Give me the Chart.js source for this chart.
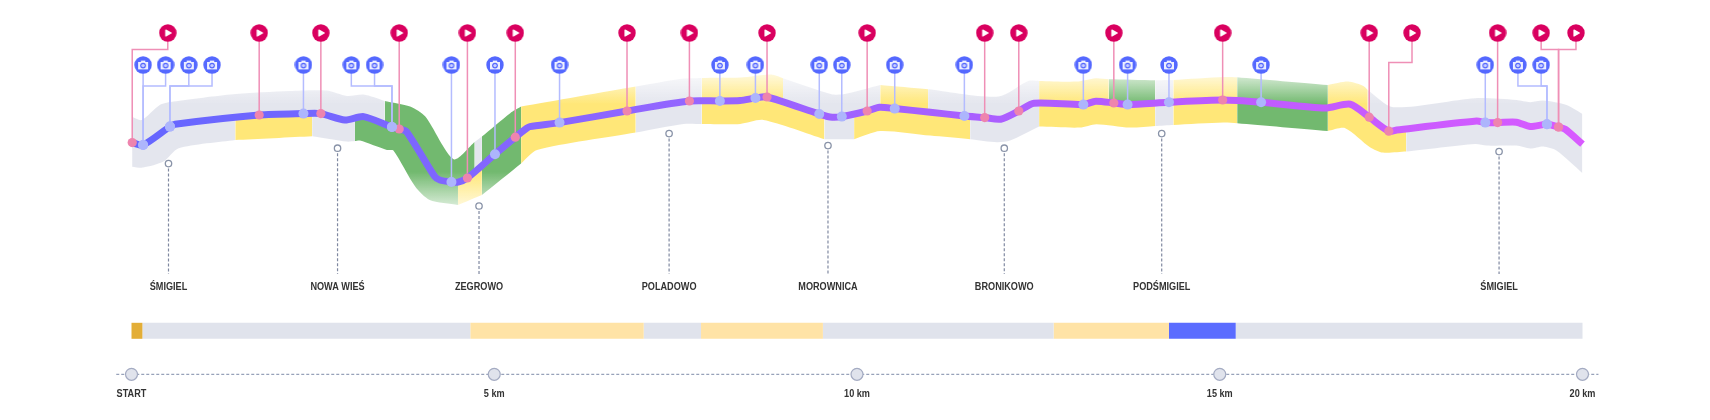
<!DOCTYPE html>
<html lang="en">
<head>
    <meta charset="UTF-8">
    <title>Route profile</title>
    <script src="https://cdn.jsdelivr.net/npm/chart.js"></script>
    <style>
        html, body { margin: 0; padding: 0; background: #fff; }
        canvas { display: block; }
    </style>
</head>
<body>
    <canvas id="routeChart" width="1710" height="420"></canvas>

    <script>
        // route centre line: km along the route, elevation
        const routeKm = [0.01, 0.16, 0.53, 0.60, 1.76, 2.37, 2.61, 2.94, 3.20, 3.59, 3.69, 3.79, 4.18, 4.25, 4.41, 4.50, 4.63, 5.01, 5.29, 5.45, 5.49, 5.90, 6.83, 7.69, 8.11, 8.39, 8.60, 8.76, 9.48, 9.63, 9.79, 10.14, 10.31, 10.52, 11.01, 11.48, 11.76, 11.98, 12.23, 12.44, 13.12, 13.29, 13.54, 13.73, 14.30, 15.04, 15.57, 16.45, 16.80, 17.06, 17.33, 17.44, 18.54, 18.66, 18.83, 19.09, 19.28, 19.51, 19.67, 19.76, 20.00];
        const routeElev = [138.7, 137.5, 146.7, 147.9, 152.5, 153.2, 153.2, 150, 151.7, 146.5, 145.5, 144.2, 121.7, 120, 119, 118.9, 121, 132.9, 141.4, 145.9, 146.7, 148.7, 154.5, 159.5, 159.5, 159.7, 161, 161.5, 153, 151.5, 151.7, 154.5, 156.4, 155.7, 153.9, 152, 151.2, 150.4, 154.5, 158.4, 157.7, 159.4, 158.5, 157.7, 158.9, 160, 158.9, 156, 157.9, 151.4, 144.4, 145, 149.5, 148.7, 148.7, 148.9, 146.7, 147.9, 146.5, 145.4, 137.9];

        // road corridor, side above the route
        const upperKm = [0, 0.14, 0.39, 0.58, 1.40, 2.18, 2.69, 2.97, 3.20, 3.49, 3.84, 4.05, 4.44, 4.73, 4.83, 5.22, 5.37, 6.95, 7.56, 7.86, 8.39, 8.82, 8.98, 9.65, 9.83, 10.32, 10.98, 11.95, 12.36, 12.51, 13.03, 13.29, 13.47, 14.11, 14.36, 15.05, 15.24, 16.49, 16.77, 16.98, 17.04, 17.39, 18.52, 19.09, 19.28, 19.46, 19.78, 20];
        const upperElev = [151.7, 150, 157.5, 159.2, 162.9, 164.5, 164.7, 162, 162.7, 159.5, 156.7, 151.7, 130.4, 139, 141.7, 153.4, 156.7, 166.7, 170.5, 171, 171.2, 172.7, 170.9, 162.9, 163, 167.5, 165.4, 161.7, 169.5, 169.5, 169.2, 170.9, 170.4, 169.9, 170, 171.5, 171.4, 167.5, 169.2, 167, 165, 156.4, 160.9, 160, 158.9, 159.7, 157.5, 153];
        const upperBreaks = [0, 3.49, 4.73, 4.83, 5.37, 6.95, 7.86, 8.98, 10.32, 10.98, 12.51, 13.47, 14.11, 14.36, 15.24, 16.49, 17.04, 20];
        const upperSurface = ['gray', 'green', 'gray', 'green', 'yellow', 'gray', 'yellow', 'gray', 'yellow', 'gray', 'yellow', 'green', 'gray', 'yellow', 'green', 'yellow', 'gray'];

        // road corridor, side below the route
        const lowerKm = [0, 0.16, 0.44, 0.65, 1.43, 2.49, 2.97, 3.08, 3.15, 3.52, 3.61, 3.91, 4.11, 4.50, 4.83, 5.37, 5.59, 6.95, 7.61, 7.86, 8.39, 8.71, 9.55, 9.96, 10.32, 11.01, 11.56, 11.93, 12.11, 12.51, 13.07, 13.30, 13.76, 14.11, 14.36, 15.05, 15.24, 16.49, 16.73, 17.07, 17.25, 17.57, 18.52, 18.68, 19.09, 19.28, 19.46, 19.64, 20];
        const lowerElev = [126.7, 126.2, 129.2, 135.9, 140, 141.9, 139.2, 139.5, 139.7, 135, 134.7, 116.7, 110, 107.5, 112.5, 128.3, 135, 143.7, 148, 148, 148, 150, 140.4, 140.4, 144.5, 142.2, 140.4, 138.9, 139.7, 146.7, 146.2, 147.9, 146.2, 147, 147.5, 148.7, 148.4, 144.5, 145.9, 136.4, 133.7, 134.2, 138, 137.2, 137.2, 135.7, 136.7, 134.7, 123.4];
        const lowerBreaks = [0, 1.43, 2.49, 3.08, 4.50, 4.83, 5.37, 6.95, 7.86, 9.55, 9.96, 11.56, 12.51, 14.11, 14.36, 15.24, 16.49, 17.57, 20];
        const lowerSurface = ['gray', 'yellow', 'gray', 'green', 'yellow', 'green', 'yellow', 'gray', 'yellow', 'gray', 'yellow', 'gray', 'yellow', 'gray', 'yellow', 'green', 'yellow', 'gray'];

        // video pins
        const playIconKm = [0.50, 1.76, 2.61, 3.69, 4.63, 5.29, 6.83, 7.69, 8.76, 10.14, 11.76, 12.23, 13.54, 15.04, 17.06, 17.65, 18.83, 19.43, 19.91];
        const playDotKm = [0.01, 1.76, 2.61, 3.69, 4.63, 5.29, 6.83, 7.69, 8.76, 10.14, 11.76, 12.23, 13.54, 15.04, 17.06, 17.33, 18.83, 19.67, 19.67];
        const playDotElev = [138.7, 152.5, 153.2, 145.5, 121, 141.4, 154.5, 159.5, 161.5, 154.5, 151.2, 154.5, 158.5, 160, 151.4, 144.4, 148.7, 146.5, 146.5];
        const playElbow = [185.3, null, null, null, null, null, null, null, null, null, null, null, null, null, null, 178.8, null, 185.3, 185.3];

        // photo pins
        const camIconKm = [0.16, 0.47, 0.79, 1.11, 2.37, 3.03, 3.35, 4.41, 5.01, 5.90, 8.11, 8.60, 9.48, 9.79, 10.52, 11.48, 13.12, 13.73, 14.30, 15.57, 18.66, 19.11, 19.43];
        const camDotKm = [0.16, 0.16, 0.53, 0.53, 2.37, 3.59, 3.59, 4.41, 5.01, 5.90, 8.11, 8.60, 9.48, 9.79, 10.52, 11.48, 13.12, 13.73, 14.30, 15.57, 18.66, 19.51, 19.51];
        const camDotElev = [137.5, 137.5, 146.7, 146.7, 153.2, 146.5, 146.5, 119, 132.9, 148.7, 159.5, 161, 153, 151.7, 155.7, 152, 157.7, 157.7, 158.9, 158.9, 148.7, 147.9, 147.9];
        const camElbow = [null, 167, 167, 167, null, 167, 167, null, null, null, null, null, null, null, null, null, null, null, null, null, null, 167, 167];

        // towns
        const townNames = ['ŚMIGIEL', 'NOWA WIEŚ', 'ZEGROWO', 'POLADOWO', 'MOROWNICA', 'BRONIKOWO', 'PODŚMIGIEL', 'ŚMIGIEL'];
        const townKm = [0.51, 2.84, 4.79, 7.41, 9.60, 12.03, 14.20, 18.85];
        const townElev = [128.2, 135.9, 107, 143.2, 137.2, 135.9, 143.2, 134.2];

        // strip under the profile
        const stripBreaks = [0, 0.15, 4.67, 7.06, 7.85, 9.53, 12.71, 14.30, 15.22, 20];
        const stripColors = ['#e3ae37', '#e0e3ec', '#ffe3a6', '#e0e3ec', '#ffe3a6', '#e0e3ec', '#ffe3a6', '#5b6cff', '#e0e3ec'];

        const kmTicks = ['START', '5 km', '10 km', '15 km', '20 km'];
        const kmTickValues = [0, 5, 10, 15, 20];

        const surfaceRgb = { gray: '228,230,238', yellow: '255,231,120', green: '114,185,111' };

        const pts = (xs, ys) => xs.map((x, i) => ({ x: x, y: ys[i] }));

        // corridor colours wash out towards the top and the bottom of the profile
        function fadedFill(chart, rgb) {
            const y = chart.scales.y;
            const top = y.getPixelForValue(173), bottom = y.getPixelForValue(104);
            if (!isFinite(top) || !isFinite(bottom) || bottom === top) return 'rgb(' + rgb + ')';
            const span = bottom - top;
            const g = chart.ctx.createLinearGradient(0, top, 0, bottom);
            g.addColorStop(0, 'rgba(' + rgb + ',0.25)');
            g.addColorStop((y.getPixelForValue(158) - top) / span, 'rgba(' + rgb + ',1)');
            g.addColorStop((y.getPixelForValue(124) - top) / span, 'rgba(' + rgb + ',1)');
            g.addColorStop(1, 'rgba(' + rgb + ',0.15)');
            return g;
        }

        function routeStroke(chart) {
            const x = chart.scales.x;
            if (!isFinite(x.left) || !isFinite(x.right)) return '#9066ff';
            const g = chart.ctx.createLinearGradient(x.left, 0, x.right, 0);
            g.addColorStop(0, '#6466ff');
            g.addColorStop(0.35, '#9066ff');
            g.addColorStop(0.68, '#b45cff');
            g.addColorStop(1, '#d85aff');
            return g;
        }

        function playIcon() {
            const c = document.createElement('canvas');
            c.width = c.height = 18;
            const g = c.getContext('2d');
            g.fillStyle = '#d9005f';
            g.beginPath(); g.arc(9, 9, 8.7, 0, Math.PI * 2); g.fill();
            g.fillStyle = '#fff';
            g.strokeStyle = '#fff';
            g.lineJoin = 'round';
            g.lineWidth = 1.2;
            g.beginPath(); g.moveTo(7, 6); g.lineTo(12.3, 9); g.lineTo(7, 12); g.closePath(); g.fill(); g.stroke();
            return c;
        }

        function camIcon() {
            const c = document.createElement('canvas');
            c.width = c.height = 18;
            const g = c.getContext('2d');
            g.fillStyle = '#5468ff';
            g.beginPath(); g.arc(9, 9, 8.7, 0, Math.PI * 2); g.fill();
            g.fillStyle = '#eef0ff';
            g.beginPath(); g.rect(4, 6, 10, 7.4); g.fill();
            g.beginPath(); g.rect(6.8, 4.6, 4.4, 2); g.fill();
            g.fillStyle = '#5468ff';
            g.beginPath(); g.arc(9, 9.6, 2.9, 0, Math.PI * 2); g.fill();
            g.fillStyle = '#c9cfff';
            g.beginPath(); g.arc(9, 9.6, 1.7, 0, Math.PI * 2); g.fill();
            return c;
        }

        const ROUTE_INDEX = 0;
        const CURVE = 0.25;
        const datasets = [{
            data: pts(routeKm, routeElev),
            borderColor: ctx => routeStroke(ctx.chart),
            borderWidth: 7,
            borderJoinStyle: 'round',
            tension: CURVE,
            pointRadius: 0,
            clip: false,
            order: 3,
        }];

        // one filled piece per surface stretch, closed against the route line
        function addSurfaces(breaks, surfaces, kms, elevs) {
            surfaces.forEach((surface, i) => {
                const rows = pts(kms, elevs).filter(p => p.x >= breaks[i] && p.x <= breaks[i + 1]);
                datasets.push({
                    data: rows,
                    borderWidth: 0,
                    pointRadius: 0,
                    tension: CURVE,
                    backgroundColor: ctx => fadedFill(ctx.chart, surfaceRgb[surface]),
                    fill: { target: ROUTE_INDEX },
                    order: 6,
                });
            });
        }
        addSurfaces(upperBreaks, upperSurface, upperKm, upperElev);
        addSurfaces(lowerBreaks, lowerSurface, lowerKm, lowerElev);

        function addStems(iconKm, iconElev, dotKm, dotElev, elbow, color) {
            iconKm.forEach((km, i) => {
                const rows = [{ x: km, y: iconElev }];
                if (elbow[i] !== null) {
                    rows.push({ x: km, y: elbow[i] }, { x: dotKm[i], y: elbow[i] });
                }
                rows.push({ x: dotKm[i], y: dotElev[i] });
                datasets.push({ data: rows, borderColor: color, borderWidth: 1.5, borderJoinStyle: 'miter', pointRadius: 0, clip: false, order: 4 });
            });
        }
        const PLAY_ROW = 193.5, CAM_ROW = 177.5;
        addStems(playIconKm, PLAY_ROW, playDotKm, playDotElev, playElbow, '#ef8fb6');
        addStems(camIconKm, CAM_ROW, camDotKm, camDotElev, camElbow, '#b4bcff');

        // dots on the route, icons on top
        datasets.push({ data: pts(camDotKm, camDotElev), showLine: false, pointRadius: 5, pointBorderWidth: 0, pointBackgroundColor: '#adb5fc', clip: false, order: 2 });
        datasets.push({ data: pts(playDotKm, playDotElev), showLine: false, pointRadius: 4.6, pointBorderWidth: 0, pointBackgroundColor: '#ee84ae', clip: false, order: 2 });
        datasets.push({ data: playIconKm.map(km => ({ x: km, y: PLAY_ROW })), showLine: false, pointStyle: playIcon(), pointRadius: 9, clip: false, order: 1 });
        datasets.push({ data: camIconKm.map(km => ({ x: km, y: CAM_ROW })), showLine: false, pointStyle: camIcon(), pointRadius: 9, clip: false, order: 1 });

        // town leaders with the little ring at the top
        townKm.forEach((km, i) => {
            datasets.push({
                data: [{ x: km, y: townElev[i] }, { x: km, y: 73 }],
                borderColor: '#7f88a0',
                borderWidth: 1.2,
                borderDash: [3, 2],
                pointRadius: ctx => ctx.dataIndex === 0 ? 3.2 : 0,
                pointBackgroundColor: '#fff',
                pointBorderColor: '#8993a8',
                pointBorderWidth: 1.3,
                order: 5,
            });
        });

        // surface strip
        stripColors.forEach((color, i) => {
            datasets.push({
                data: [{ x: stripBreaks[i], y: 44.6 }, { x: stripBreaks[i + 1], y: 44.6 }],
                borderColor: color,
                borderWidth: 16,
                borderCapStyle: 'butt',
                pointRadius: 0,
                clip: false,
                order: 5,
            });
        });

        // km axis line with its markers
        datasets.push({
            data: [{ x: -0.21, y: 22.85 }, { x: 20.22, y: 22.85 }],
            borderColor: '#7e8aa8',
            borderWidth: 1,
            borderDash: [3, 2],
            pointRadius: 0,
            clip: false,
            order: 5,
        });
        datasets.push({
            data: kmTickValues.map(km => ({ x: km, y: 22.85 })),
            showLine: false,
            pointRadius: 6,
            pointBackgroundColor: '#e0e3ec',
            pointBorderColor: '#a4abc2',
            pointBorderWidth: 1.2,
            clip: false,
            order: 4,
        });

        // labels are a condensed bold, no such face is installed so squeeze the regular bold
        const labelPlugin = {
            id: 'labelPlugin',
            afterDatasetsDraw(chart) {
                const ctx = chart.ctx;
                const { x, y } = chart.scales;
                const put = (text, km, elev) => {
                    ctx.fillText(text, x.getPixelForValue(km), y.getPixelForValue(elev), ctx.measureText(text).width * 0.83);
                };
                ctx.save();
                ctx.font = 'bold 11px "Liberation Sans", sans-serif';
                ctx.fillStyle = '#333';
                ctx.textAlign = 'center';
                ctx.textBaseline = 'middle';
                townNames.forEach((name, i) => put(name, townKm[i], 66.7));
                kmTicks.forEach((label, i) => put(label, kmTickValues[i], 12.8));
                ctx.restore();
            },
        };

        new Chart(document.getElementById('routeChart').getContext('2d'), {
            type: 'line',
            data: { datasets: datasets },
            plugins: [labelPlugin],
            options: {
                responsive: false,
                animation: false,
                devicePixelRatio: 1,
                layout: { autoPadding: false, padding: { left: 131.5, right: 127.5, top: 0, bottom: 0 } },
                plugins: { legend: { display: false }, tooltip: { enabled: false } },
                scales: {
                    x: { type: 'linear', display: false, min: 0, max: 20 },
                    y: { display: false, min: 0, max: 210 },
                },
            },
        });
    </script>
</body>
</html>
